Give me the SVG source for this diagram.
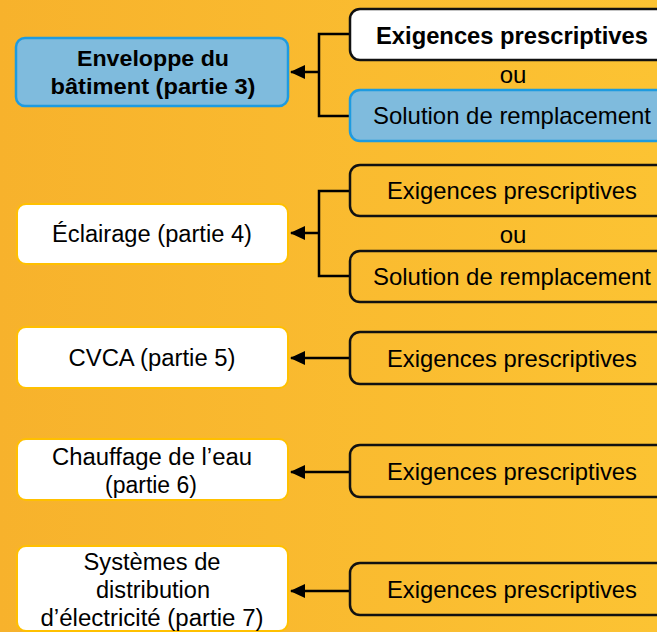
<svg xmlns="http://www.w3.org/2000/svg" width="657" height="632" viewBox="0 0 657 632">
<defs>
<linearGradient id="bg" x1="0" y1="0" x2="1" y2="0">
<stop offset="0" stop-color="#F7B22C"/>
<stop offset="1" stop-color="#FCC333"/>
</linearGradient>
<marker id="arr" viewBox="0 0 15 14" refX="14" refY="7" markerWidth="15" markerHeight="14" markerUnits="userSpaceOnUse" orient="auto">
<path d="M15,7 L0,0 L0,14 Z" fill="#000"/>
</marker>
<style>
text{font-family:"Liberation Sans",Arial,sans-serif;font-size:23px;fill:#000;text-anchor:middle}
.r{font-size:24px}
.b{font-weight:bold;font-size:22px}
.b.r{font-size:24px}
.lw{fill:#fff;stroke:#FFC000;stroke-width:2}
.lb{fill:#7FBBDD;stroke:#1E9BE0;stroke-width:2.5}
.ro{fill:none;stroke:#111;stroke-width:2.5}
.rw{fill:#fff;stroke:#111;stroke-width:2.5}
.rb{fill:#7FBBDD;stroke:#1E9BE0;stroke-width:2.5}
.c{fill:none;stroke:#000;stroke-width:2.5}
</style>
</defs>
<rect width="657" height="632" fill="url(#bg)"/>

<g id="connectors">
<path class="c" d="M350,34 H319 V116 H350"/>
<path class="c" d="M319,72 H291" marker-end="url(#arr)"/>
<path class="c" d="M350,191 H319 V276 H350"/>
<path class="c" d="M319,233 H291" marker-end="url(#arr)"/>
<path class="c" d="M350,358 H291" marker-end="url(#arr)"/>
<path class="c" d="M350,472 H291" marker-end="url(#arr)"/>
<path class="c" d="M350,591 H291" marker-end="url(#arr)"/>
</g>

<g id="n-enveloppe">
<rect class="lb" x="16" y="38" width="272" height="68" rx="9"/>
<text class="b" x="153" y="66" textLength="152" lengthAdjust="spacingAndGlyphs">Enveloppe du</text>
<text class="b" x="153" y="94" textLength="205" lengthAdjust="spacingAndGlyphs">bâtiment (partie 3)</text>
</g>
<g id="n-env-presc">
<rect class="rw" x="350" y="9" width="330" height="51" rx="10"/>
<text class="b r" x="512" y="44" textLength="272" lengthAdjust="spacingAndGlyphs">Exigences prescriptives</text>
</g>
<text class="r" x="513" y="83">ou</text>
<g id="n-env-sol">
<rect class="rb" x="350" y="90" width="330" height="51" rx="10"/>
<text class="r" x="512" y="124" textLength="278" lengthAdjust="spacingAndGlyphs">Solution de remplacement</text>
</g>

<g id="n-eclairage">
<rect class="lw" x="17" y="204" width="271" height="60" rx="9"/>
<text x="152" y="242" textLength="200" lengthAdjust="spacingAndGlyphs">Éclairage (partie 4)</text>
</g>
<g id="n-ecl-presc">
<rect class="ro" x="350" y="165" width="330" height="51" rx="10"/>
<text class="r" x="512" y="199" textLength="250" lengthAdjust="spacingAndGlyphs">Exigences prescriptives</text>
</g>
<text class="r" x="513" y="243">ou</text>
<g id="n-ecl-sol">
<rect class="ro" x="350" y="251" width="330" height="51" rx="10"/>
<text class="r" x="512" y="285" textLength="278" lengthAdjust="spacingAndGlyphs">Solution de remplacement</text>
</g>

<g id="n-cvca">
<rect class="lw" x="17" y="327" width="271" height="61" rx="9"/>
<text x="152" y="366" textLength="167" lengthAdjust="spacingAndGlyphs">CVCA (partie 5)</text>
</g>
<g id="n-cvca-presc">
<rect class="ro" x="350" y="332" width="330" height="52" rx="10"/>
<text class="r" x="512" y="367" textLength="250" lengthAdjust="spacingAndGlyphs">Exigences prescriptives</text>
</g>

<g id="n-chauffage">
<rect class="lw" x="17" y="439" width="271" height="61" rx="9"/>
<text x="152" y="465" textLength="200" lengthAdjust="spacingAndGlyphs">Chauffage de l’eau</text>
<text x="151" y="493" textLength="92" lengthAdjust="spacingAndGlyphs">(partie 6)</text>
</g>
<g id="n-chauf-presc">
<rect class="ro" x="350" y="445" width="330" height="52" rx="10"/>
<text class="r" x="512" y="480" textLength="250" lengthAdjust="spacingAndGlyphs">Exigences prescriptives</text>
</g>

<g id="n-systemes">
<rect class="lw" x="17" y="546" width="271" height="85" rx="9"/>
<text x="152" y="570" textLength="137" lengthAdjust="spacingAndGlyphs">Systèmes de</text>
<text x="153" y="598" textLength="114" lengthAdjust="spacingAndGlyphs">distribution</text>
<text x="152" y="626" textLength="223" lengthAdjust="spacingAndGlyphs">d’électricité (partie 7)</text>
</g>
<g id="n-sys-presc">
<rect class="ro" x="350" y="563" width="330" height="52" rx="10"/>
<text class="r" x="512" y="598" textLength="250" lengthAdjust="spacingAndGlyphs">Exigences prescriptives</text>
</g>
</svg>
